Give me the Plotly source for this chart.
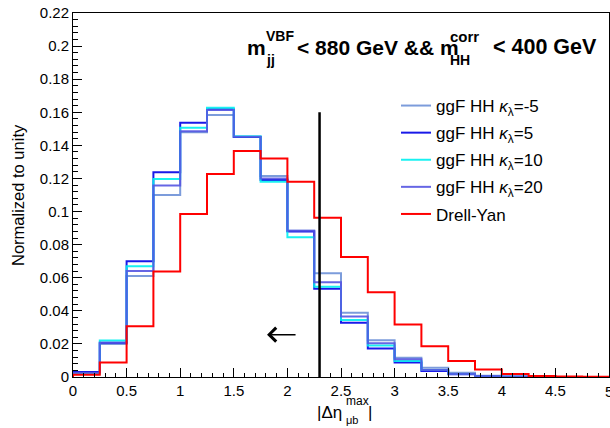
import numpy as np
import plotly.graph_objects as go

# Binning of |Delta eta_{mu b}^{max}|
bin_edges = np.arange(0.0, 5.0001, 0.25)

# Normalized distributions (20 bins, 0-5)
hh_kl_m5 = [0.0030, 0.0200, 0.0610, 0.1100, 0.1480, 0.1584, 0.1450, 0.1215, 0.0884, 0.0627,
            0.0389, 0.0222, 0.0117, 0.0056, 0.0026, 0.0008, 0.0003, 0.0001, 0.0, 0.0]
hh_kl_5 = [0.0030, 0.0207, 0.0700, 0.1237, 0.1537, 0.1618, 0.1450, 0.1190, 0.0880, 0.0534,
           0.0328, 0.0173, 0.0087, 0.0036, 0.0016, 0.0005, 0.0002, 0.0001, 0.0, 0.0]
hh_kl_10 = [0.0020, 0.0220, 0.0670, 0.1197, 0.1507, 0.1628, 0.1455, 0.1180, 0.0844, 0.0546,
            0.0345, 0.0190, 0.0097, 0.0042, 0.0018, 0.0006, 0.0002, 0.0001, 0.0, 0.0]
hh_kl_20 = [0.0025, 0.0207, 0.0640, 0.1157, 0.1485, 0.1614, 0.1452, 0.1200, 0.0884, 0.0572,
            0.0365, 0.0204, 0.0107, 0.0042, 0.0018, 0.0006, 0.0002, 0.0001, 0.0, 0.0]
drell_yan = [0.0014, 0.0087, 0.0306, 0.0637, 0.0985, 0.1227, 0.1366, 0.1320, 0.1180, 0.0963,
             0.0725, 0.0512, 0.0318, 0.0186, 0.0097, 0.0046, 0.0018, 0.0006, 0.0003, 0.0001]

series_names = ["ggF HH <i>κ</i><sub>λ</sub>=-5", "ggF HH <i>κ</i><sub>λ</sub>=5",
                "ggF HH <i>κ</i><sub>λ</sub>=10", "ggF HH <i>κ</i><sub>λ</sub>=20", "Drell-Yan"]
series_values = [hh_kl_m5, hh_kl_5, hh_kl_10, hh_kl_20, drell_yan]
series_colors = ["rgba(110,145,215,0.9)", "rgba(0,0,230,0.9)", "rgba(0,240,240,0.9)",
                 "rgba(85,85,225,0.9)", "#ff0000"]

# Selection cut on the variable
cut_value = 2.3
cut_line_top = 0.16
arrow_tail = 2.09
arrow_head = 1.81
arrow_y = 0.0256

W, H = 610, 428
L, R, T, B = 73, 1, 13, 51
PW, PH = W - L - R, H - T - B
FONT = "Liberation Sans, Arial, sans-serif"


def fx(p):
    return (p - L) / PW


def fy(p):
    return (T + PH - p) / PH


def step_xy(values):
    xs = [bin_edges[0]] + list(bin_edges[:-1]) + [bin_edges[-1], bin_edges[-1]]
    ys = [0.0] + list(values) + [values[-1], 0.0]
    return xs, ys


fig = go.Figure()
for i, (name, vals, col) in enumerate(zip(series_names, series_values, series_colors)):
    xs, ys = step_xy(vals)
    fig.add_trace(go.Scatter(x=xs, y=ys, mode="lines", line_shape="hv",
                             line=dict(color=col, width=2), name=name,
                             legendgroup=f"g{i}"))

# Cut line
fig.add_trace(go.Scatter(x=[cut_value, cut_value], y=[0, cut_line_top], mode="lines",
                         line=dict(color="black", width=2.5), showlegend=False,
                         hoverinfo="skip"))

annotations = []
# Arrow indicating the selected region
annotations.append(dict(x=arrow_head, y=arrow_y, ax=arrow_tail, ay=arrow_y,
                        xref="x", yref="y", axref="x", ayref="y", text="",
                        showarrow=True, arrowhead=4, arrowwidth=1.5, arrowsize=1.8,
                        arrowcolor="black"))


def txt(s, x, y, size, bold=False, xanchor="left", yanchor="middle", angle=0):
    if bold:
        s = f"<b>{s}</b>"
    annotations.append(dict(text=s, x=fx(x), y=fy(y), xref="paper", yref="paper",
                            xanchor=xanchor, yanchor=yanchor, showarrow=False,
                            textangle=angle, borderpad=0,
                            font=dict(family=FONT, size=size, color="black")))


# Selection label
txt("m", 246, 47, 21, True)
txt("VBF", 265, 36, 14, True)
txt("jj", 265, 60, 14, True)
txt("&lt; 880 GeV &amp;&amp; m", 296, 47, 21, True)
txt("corr", 449, 36, 15, True)
txt("HH", 449, 60, 14, True)
txt("&lt; 400 GeV", 492, 47, 21.5, True)

# Axis titles
txt("|Δη", 316, 412, 17)
txt("max", 345, 401, 12)
txt("μb", 345, 420, 11)
txt("|", 367, 412, 17)
txt("Normalized to unity", 18, 195, 16.5, xanchor="center", angle=-90)
# last x tick label, sitting on the right page edge
txt("5", 609, 391, 15, xanchor="center")

fig.update_layout(
    width=W, height=H,
    margin=dict(l=L, r=R, t=T, b=B),
    paper_bgcolor="white", plot_bgcolor="white",
    font=dict(family=FONT, size=15, color="black"),
    showlegend=True,
    legend=dict(x=fx(396), y=fy(88), xanchor="left", yanchor="top",
                font=dict(family=FONT, size=17), bgcolor="rgba(0,0,0,0)",
                tracegroupgap=2, itemwidth=30),
    annotations=annotations,
    xaxis=dict(range=[0, 5], dtick=0.5, tick0=0, ticks="inside", ticklen=9,
               tickwidth=1, tickcolor="black", showgrid=False, zeroline=False,
               showline=True, linecolor="black", linewidth=1, mirror=True,
               minor=dict(dtick=0.1, ticks="inside", ticklen=4.5, tickcolor="black"),
               tickfont=dict(size=15)),
    yaxis=dict(range=[0, 0.22], dtick=0.02, tick0=0, ticks="inside", ticklen=9,
               tickwidth=1, tickcolor="black", showgrid=False, zeroline=False,
               showline=True, linecolor="black", linewidth=1, mirror=True,
               minor=dict(dtick=0.004, ticks="inside", ticklen=4.5, tickcolor="black"),
               tickfont=dict(size=15)),
)

fig.write_html("out.html")
